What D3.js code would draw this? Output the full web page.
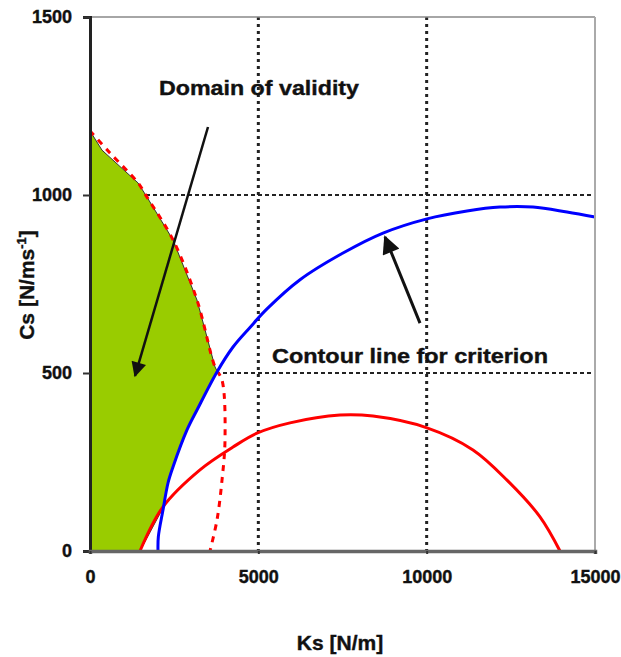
<!DOCTYPE html>
<html>
<head>
<meta charset="utf-8">
<script src="https://cdn.jsdelivr.net/npm/d3@7"></script>
<style>
  body { margin: 0; background: #fff; }
  text { font-family: "Liberation Sans", Arial, sans-serif; font-weight: bold; fill: #111; stroke: #111; stroke-width: 0.4px; }
</style>
</head>
<body>
<div id="chart"></div>
<script>
// axis ticks
var xTicks = [0, 5000, 10000, 15000];
var yTicks = [0, 500, 1000, 1500];

// contour line for criterion (blue)
var blueKs = [2020, 2030, 2168, 2317, 2465, 2881, 3178, 3772, 4248, 4752, 5257, 6238, 7515, 8703, 10010, 11198, 12178, 13158, 14168, 15000];
var blueCs = [0, 40, 115, 191, 236, 340, 396, 503, 573, 628, 680, 762, 837, 893, 933, 955, 966, 966, 952, 938];

// red solid curve
var redKs = [1485, 2168, 3267, 4248, 4960, 5941, 7426, 8406, 10010, 11376, 12386, 13366, 13960];
var redCs = [0, 124, 228, 292, 331, 360, 382, 379, 346, 284, 199, 96, 0];

// red dashed curve
var dashKs = [0, 594, 1426, 1693, 2465, 3178, 3713, 3921, 4010, 3921, 3772, 3564];
var dashCs = [1180, 1118, 1034, 994, 874, 705, 517, 480, 312, 199, 87, 0];

// domain of validity (green area outline)
var domainKs = [0, 356, 1426, 1693, 2465, 3178, 3713, 3772, 3178, 2881, 2465, 2317, 2168, 1485, 0];
var domainCs = [1180, 1126, 1034, 994, 874, 705, 517, 506, 396, 340, 236, 191, 121, 0, 0];

var W = 621, H = 657;
var plotL = 90, plotR = 595, plotT = 17, plotB = 551;

var svg = d3.select("#chart").append("svg")
    .attr("width", W)
    .attr("height", H);

var x = d3.scaleLinear().domain([0, 15000]).range([plotL, plotR]);
var y = d3.scaleLinear().domain([0, 1500]).range([plotB, plotT]);

var defs = svg.append("defs");
defs.append("marker")
    .attr("id", "head")
    .attr("viewBox", "0 0 10 10")
    .attr("refX", 9).attr("refY", 5)
    .attr("markerWidth", 6.5).attr("markerHeight", 6)
    .attr("markerUnits", "strokeWidth")
    .attr("orient", "auto")
    .append("path")
    .attr("d", "M0,0 L10,5 L0,10 z")
    .attr("fill", "#111");

// grid lines
svg.append("g").selectAll("line")
    .data([5000, 10000])
    .enter().append("line")
    .attr("x1", function (d) { return x(d); })
    .attr("x2", function (d) { return x(d); })
    .attr("y1", plotT).attr("y2", plotB)
    .attr("stroke", "#222")
    .attr("stroke-width", 3)
    .attr("stroke-dasharray", "3 4");

svg.append("g").selectAll("line")
    .data([500, 1000])
    .enter().append("line")
    .attr("x1", plotL).attr("x2", plotR)
    .attr("y1", function (d) { return y(d); })
    .attr("y2", function (d) { return y(d); })
    .attr("stroke", "#222")
    .attr("stroke-width", 2)
    .attr("stroke-dasharray", "4 3");

// green domain
var domain = domainKs.map(function (k, i) { return [k, domainCs[i]]; });
svg.append("path")
    .datum(domain)
    .attr("d", d3.line().x(function (d) { return x(d[0]); }).y(function (d) { return y(d[1]); }))
    .attr("fill", "#99cc00")
    .attr("stroke", "#333")
    .attr("stroke-width", 1);

var line = d3.line()
    .x(function (d) { return x(d[0]); })
    .y(function (d) { return y(d[1]); })
    .curve(d3.curveCatmullRom);

svg.append("path")
    .datum(dashKs.map(function (k, i) { return [k, dashCs[i]]; }))
    .attr("d", line)
    .attr("fill", "none")
    .attr("stroke", "#ff0000")
    .attr("stroke-width", 3)
    .attr("stroke-dasharray", "6 6");

svg.append("path")
    .datum(redKs.map(function (k, i) { return [k, redCs[i]]; }))
    .attr("d", line)
    .attr("fill", "none")
    .attr("stroke", "#ff0000")
    .attr("stroke-width", 3);

svg.append("path")
    .datum(blueKs.map(function (k, i) { return [k, blueCs[i]]; }))
    .attr("d", line)
    .attr("fill", "none")
    .attr("stroke", "#0000ff")
    .attr("stroke-width", 3);

// frame
svg.append("line").attr("x1", plotL).attr("x2", plotR).attr("y1", plotT).attr("y2", plotT)
    .attr("stroke", "#888").attr("stroke-width", 1.5);
svg.append("line").attr("x1", plotR).attr("x2", plotR).attr("y1", plotT).attr("y2", plotB)
    .attr("stroke", "#aaa").attr("stroke-width", 2);

// axes
var yAxis = svg.append("g")
    .attr("transform", "translate(" + plotL + ",0)")
    .call(d3.axisLeft(y).tickValues(yTicks).tickSize(7).tickPadding(11).tickFormat(d3.format("d")));
yAxis.select(".domain").attr("stroke", "#222").attr("stroke-width", 3);
yAxis.selectAll(".tick line").attr("stroke", "#333").attr("stroke-width", 2);
yAxis.selectAll("text").style("font-size", "18px").attr("fill", "#111");

var xAxis = svg.append("g")
    .attr("transform", "translate(0," + plotB + ")")
    .call(d3.axisBottom(x).tickValues(xTicks).tickSize(3).tickPadding(16).tickFormat(d3.format("d")));
xAxis.select(".domain").attr("stroke", "#666").attr("stroke-width", 3.5);
xAxis.selectAll(".tick line").attr("stroke", "#333").attr("stroke-width", 2);
xAxis.selectAll("text").style("font-size", "18px").attr("fill", "#111");

// arrows
svg.append("line")
    .attr("x1", x(3505)).attr("y1", y(1191))
    .attr("x2", x(1337)).attr("y2", y(492))
    .attr("stroke", "#111").attr("stroke-width", 2.5)
    .attr("marker-end", "url(#head)");
svg.append("line")
    .attr("x1", x(9802)).attr("y1", y(640))
    .attr("x2", x(8762)).attr("y2", y(882))
    .attr("stroke", "#111").attr("stroke-width", 3)
    .attr("marker-end", "url(#head)");

// annotations
svg.append("text")
    .attr("x", 159).attr("y", 95)
    .attr("textLength", 200).attr("lengthAdjust", "spacingAndGlyphs")
    .style("font-size", "21px")
    .text("Domain of validity");
svg.append("text")
    .attr("x", 272).attr("y", 363)
    .attr("textLength", 276).attr("lengthAdjust", "spacingAndGlyphs")
    .style("font-size", "21px")
    .text("Contour line for criterion");

// axis titles
svg.append("text")
    .attr("x", 340).attr("y", 650)
    .attr("text-anchor", "middle")
    .style("font-size", "21px")
    .text("Ks [N/m]");

var yt = svg.append("text")
    .attr("transform", "translate(34,285) rotate(-90)")
    .attr("text-anchor", "middle")
    .style("font-size", "21px");
yt.append("tspan").text("Cs [N/ms");
yt.append("tspan").attr("dy", -8).style("font-size", "13px").text("-1");
yt.append("tspan").attr("dy", 8).text("]");
</script>
</body>
</html>
